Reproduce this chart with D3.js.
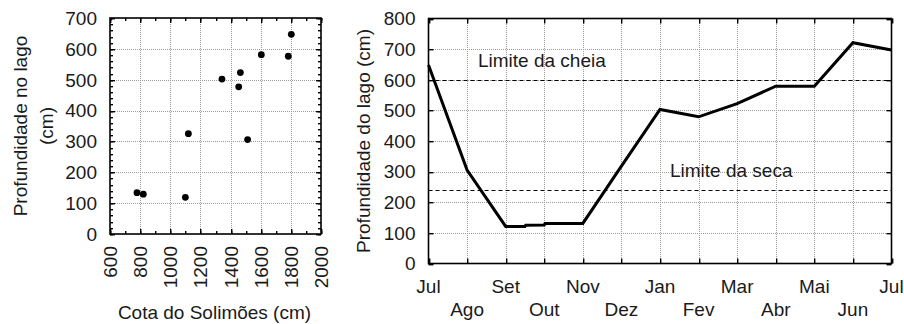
<!DOCTYPE html>
<html>
<head>
<meta charset="utf-8">
<script src="https://cdn.jsdelivr.net/npm/d3@7"></script>
<style>
  html, body { margin: 0; padding: 0; background: #fff; }
  svg { display: block; }
  .tick-label { font-family: "Liberation Sans Narrow", "Arial Narrow", "Liberation Sans", Arial, sans-serif; font-size: 19px; fill: #1a1a1a; }
  .title { font-family: "Liberation Sans", Arial, sans-serif; font-size: 19px; fill: #1a1a1a; }
</style>
</head>
<body>
<svg id="chart" width="904" height="324"></svg>
<script>
// Scatter: river level (Solimões) vs lake depth
const cotaSolimoes = [779, 821, 1100, 1120, 1343, 1454, 1465, 1513, 1604, 1783, 1803];
const profundidadeLago = [134, 129, 119, 325, 502, 477, 523, 306, 581, 576, 647];

// Annual cycle of lake depth (x in months from July)
const meses = ["Jul", "Ago", "Set", "Out", "Nov", "Dez", "Jan", "Fev", "Mar", "Abr", "Mai", "Jun", "Jul"];
const tempoMes = [0, 1, 2, 2.5, 2.52, 3, 3.02, 4, 5, 6, 7, 8, 9, 10, 11, 12];
const profundidadeMes = [648, 305, 121, 121, 125, 126, 131, 131, 318, 503, 479, 522, 579, 579, 721, 697];

const limiteCheia = 600;
const limiteSeca = 240;

const xTicksL = [600, 800, 1000, 1200, 1400, 1600, 1800, 2000];
const yTicksL = [0, 100, 200, 300, 400, 500, 600, 700];
const yTicksR = [0, 100, 200, 300, 400, 500, 600, 700, 800];

const svg = d3.select("#chart");

// checkerboard pattern used to paint dotted grid strips
const defs = svg.append("defs");
const pat = defs.append("pattern")
  .attr("id", "dots").attr("patternUnits", "userSpaceOnUse")
  .attr("width", 2).attr("height", 2);
pat.append("rect").attr("x", 0).attr("y", 0).attr("width", 1).attr("height", 1).attr("fill", "#9a9a9a");
pat.append("rect").attr("x", 1).attr("y", 1).attr("width", 1).attr("height", 1).attr("fill", "#9a9a9a");

// grid strips, one pixel wide, inside a frame
function drawGrid(xs, ys, x, y, box) {
  const g = svg.append("g");
  g.selectAll("rect.v").data(xs).join("rect").attr("class", "v")
    .attr("x", d => Math.round(x(d))).attr("y", box.y0)
    .attr("width", 1).attr("height", box.y1 - box.y0)
    .attr("fill", "url(#dots)");
  g.selectAll("rect.h").data(ys).join("rect").attr("class", "h")
    .attr("x", box.x0).attr("y", d => Math.round(y(d)))
    .attr("width", box.x1 - box.x0).attr("height", 1)
    .attr("fill", "url(#dots)");
}

// short tick marks pointing into the frame
function drawTicksH(vals, scale, pos, len) {
  svg.append("g").selectAll("rect").data(vals).join("rect")
    .attr("x", d => Math.round(scale(d)))
    .attr("y", len < 0 ? pos + len : pos)
    .attr("width", 1.4).attr("height", Math.abs(len))
    .attr("fill", "#000");
}
function drawTicksV(vals, scale, pos, len) {
  svg.append("g").selectAll("rect").data(vals).join("rect")
    .attr("x", len < 0 ? pos + len : pos)
    .attr("y", d => Math.round(scale(d)))
    .attr("width", Math.abs(len)).attr("height", 1.4)
    .attr("fill", "#000");
}

function frame(box) {
  svg.append("rect")
    .attr("x", box.x0).attr("y", box.y0)
    .attr("width", box.x1 - box.x0).attr("height", box.y1 - box.y0)
    .attr("fill", "none").attr("stroke", "#000").attr("stroke-width", 1.6);
}

// ---------- Left panel: scatter ----------
const L = { x0: 110, x1: 321, y0: 18, y1: 234 };
const xL = d3.scaleLinear().domain([600, 2000]).range([L.x0, L.x1]);
const yL = d3.scaleLinear().domain([0, 700]).range([L.y1, L.y0]);

drawGrid(xTicksL.slice(1, -1), yTicksL.slice(1, -1), xL, yL, L);
frame(L);

const minorXL = d3.range(600, 2001, 100);
const minorYL = d3.range(0, 701, 20);
drawTicksH(xTicksL, xL, L.y1, -5);
drawTicksH(minorXL, xL, L.y1, -3);
drawTicksH(xTicksL, xL, L.y0, 5);
drawTicksH(minorXL, xL, L.y0, 3);
drawTicksV(yTicksL, yL, L.x0, 5);
drawTicksV(minorYL, yL, L.x0, 3);
drawTicksV(yTicksL, yL, L.x1, -5);
drawTicksV(minorYL, yL, L.x1, -3);

// y tick labels
svg.append("g").selectAll("text").data(yTicksL).join("text")
  .attr("class", "tick-label")
  .attr("x", L.x0 - 13).attr("y", d => yL(d))
  .attr("dy", "0.36em").attr("text-anchor", "end")
  .text(d => d);

// x tick labels, rotated
svg.append("g").selectAll("text").data(xTicksL).join("text")
  .attr("class", "tick-label")
  .attr("transform", d => `translate(${xL(d) + 7},${L.y1 + 12}) rotate(-90)`)
  .attr("text-anchor", "end")
  .text(d => d);

// point marks
svg.append("g").selectAll("circle").data(cotaSolimoes).join("circle")
  .attr("cx", d => xL(d))
  .attr("cy", (d, i) => yL(profundidadeLago[i]))
  .attr("r", 3.4)
  .attr("fill", "#000");

svg.append("text").attr("class", "title")
  .attr("x", (L.x0 + L.x1) / 2 - 1).attr("y", 319)
  .attr("text-anchor", "middle")
  .text("Cota do Solimões (cm)");

const yTitleL = svg.append("text").attr("class", "title")
  .attr("transform", `translate(27,${(L.y0 + L.y1) / 2}) rotate(-90)`)
  .attr("text-anchor", "middle");
yTitleL.append("tspan").attr("x", 0).attr("y", 0).text("Profundidade no lago");
yTitleL.append("tspan").attr("x", 0).attr("y", 26).text("(cm)");

// ---------- Right panel: annual depth cycle ----------
const R = { x0: 428.5, x1: 891.5, y0: 18.5, y1: 263.5 };
const xR = d3.scaleLinear().domain([0, 12]).range([R.x0, R.x1]);
const yR = d3.scaleLinear().domain([0, 800]).range([R.y1, R.y0]);
const monthIdx = d3.range(meses.length);

drawGrid(monthIdx.slice(1, -1), yTicksR.slice(1, -1), xR, yR, R);
frame(R);

drawTicksH(monthIdx, xR, R.y1, -5);
drawTicksH(monthIdx, xR, R.y0, 5);
drawTicksV(yTicksR, yR, R.x0, 5);
drawTicksV(yTicksR, yR, R.x1, -5);

// flood / drought thresholds
svg.append("g").selectAll("line").data([limiteCheia, limiteSeca]).join("line")
  .attr("x1", R.x0).attr("x2", R.x1)
  .attr("y1", d => Math.round(yR(d)) + 0.5).attr("y2", d => Math.round(yR(d)) + 0.5)
  .attr("stroke", "#000").attr("stroke-width", 1)
  .attr("stroke-dasharray", "4,3");

svg.append("text").attr("class", "title")
  .attr("x", 478).attr("y", yR(limiteCheia) - 13)
  .text("Limite da cheia");
svg.append("text").attr("class", "title")
  .attr("x", 670).attr("y", yR(limiteSeca) - 13)
  .text("Limite da seca");

// depth line
const line = d3.line()
  .x((d, i) => xR(tempoMes[i]))
  .y(d => yR(d));
svg.append("path")
  .datum(profundidadeMes)
  .attr("d", line)
  .attr("fill", "none")
  .attr("stroke", "#000")
  .attr("stroke-width", 3)
  .attr("stroke-linejoin", "miter");

// y tick labels
svg.append("g").selectAll("text").data(yTicksR).join("text")
  .attr("class", "tick-label")
  .attr("x", R.x0 - 13).attr("y", d => yR(d))
  .attr("dy", "0.36em").attr("text-anchor", "end")
  .text(d => d);

// month labels in two staggered rows
svg.append("g").selectAll("text").data(meses).join("text")
  .attr("class", "tick-label")
  .attr("x", (d, i) => xR(i))
  .attr("y", (d, i) => i % 2 === 0 ? 293 : 316)
  .attr("text-anchor", "middle")
  .text(d => d);

svg.append("text").attr("class", "title")
  .attr("transform", `translate(370,${(R.y0 + R.y1) / 2}) rotate(-90)`)
  .attr("text-anchor", "middle")
  .text("Profundidade do lago (cm)");
</script>
</body>
</html>
